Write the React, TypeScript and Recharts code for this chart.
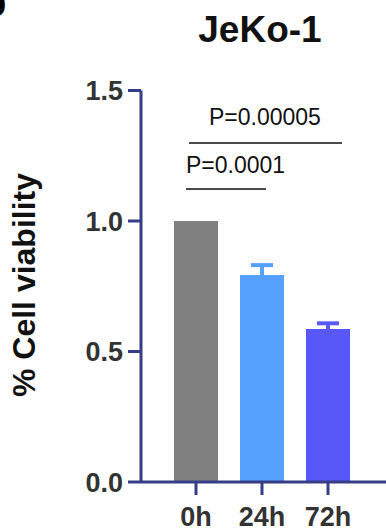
import React from "react";
import { Bar, BarChart, ErrorBar, XAxis, YAxis } from "recharts";

const timepoints = ["0h", "24h", "72h"];
const viability = [1.0, 0.793, 0.586];
const sem = [0, 0.038, 0.022];
const barColors = ["#808080", "#56a0fe", "#5858f8"];
const yTicks = [0, 0.5, 1.0, 1.5];

const axisColor = "#363c86";

// one row per timepoint, each timepoint gets its own stacked series so it can carry its own colour
const rows = timepoints.map((t, i) => {
  const row: Record<string, any> = { name: t };
  row["v" + i] = viability[i];
  if (sem[i] > 0) row["e" + i] = sem[i];
  return row;
});

export default function App() {
  return (
    <div style={{ position: "absolute", left: 0, top: 0, width: 386, height: 531, background: "#fff" }}>
      <BarChart
        width={386}
        height={531}
        data={rows}
        margin={{ top: 90.5, right: 0, bottom: 0, left: 0 }}
      >
        <XAxis
          dataKey="name"
          height={49}
          padding={{ left: 22, right: 25 }}
          axisLine={{ stroke: axisColor, strokeWidth: 3 }}
          tickLine={{ stroke: axisColor, strokeWidth: 3 }}
          tickSize={13}
          tickMargin={12}
          tick={{ fill: "#333", fontSize: 27, fontWeight: "bold", fontFamily: "Liberation Sans, Arial, sans-serif" }}
        />
        <YAxis
          width={141}
          domain={[0, 1.5]}
          ticks={yTicks}
          tickFormatter={(v: number) => v.toFixed(1)}
          axisLine={{ stroke: axisColor, strokeWidth: 3 }}
          tickLine={{ stroke: axisColor, strokeWidth: 3 }}
          tickSize={13}
          tickMargin={5}
          tick={{ fill: "#333", fontSize: 27, fontWeight: "bold", fontFamily: "Liberation Sans, Arial, sans-serif" }}
        />
        {timepoints.map((t, i) => (
          <Bar key={t} dataKey={"v" + i} stackId="s" fill={barColors[i]} barSize={44} isAnimationActive={false}>
            {sem[i] > 0 && (
              <ErrorBar dataKey={"e" + i} width={11} stroke={barColors[i]} strokeWidth={4} direction="y" />
            )}
          </Bar>
        ))}
      </BarChart>
      <svg
        width={386}
        height={531}
        style={{ position: "absolute", left: 0, top: 0, pointerEvents: "none" }}
        fontFamily="Liberation Sans, Arial, sans-serif"
      >
        <text x={-18} y={16} fontSize={40} fontWeight="bold" fill="#000">b</text>
        <text x={260} y={42} textAnchor="middle" fontSize={37} fontWeight="bold" fill="#111">JeKo-1</text>
        <text
          transform="translate(35,285) rotate(-90)"
          textAnchor="middle"
          fontSize={32}
          fontWeight="bold"
          fill="#111"
        >
          % Cell viability
        </text>
        <text x={209} y={125} fontSize={23} fill="#111">P=0.00005</text>
        <line x1={189} y1={143} x2={342} y2={143} stroke="#111" strokeWidth={1.5} />
        <text x={186} y={173} fontSize={23} fill="#111">P=0.0001</text>
        <line x1={186} y1={189} x2={266} y2={189} stroke="#111" strokeWidth={1.5} />
      </svg>
    </div>
  );
}
